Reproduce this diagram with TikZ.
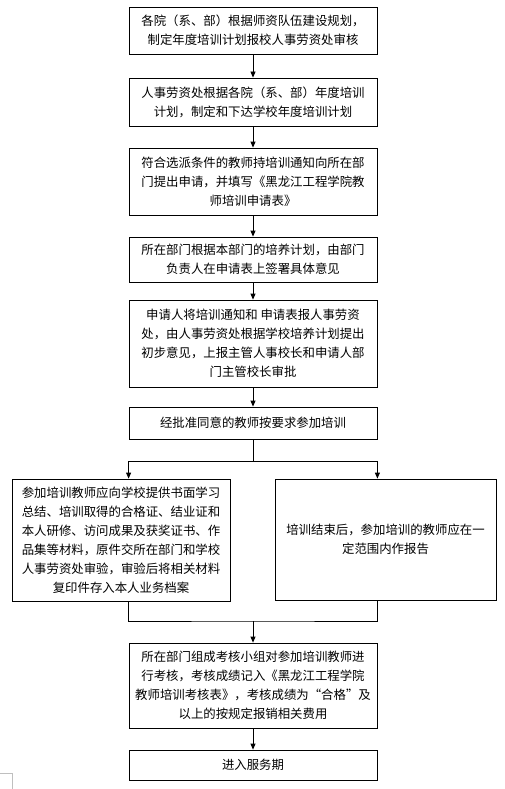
\documentclass[tikz,border=0pt]{standalone}
\usepackage{fontspec}
\newfontfamily\cjk{Noto Sans CJK SC}
\usetikzlibrary{arrows.meta,positioning,calc}

\begin{document}
\begin{tikzpicture}[x=1pt,y=-1pt,
    stepbox/.style={draw,line width=0.8pt,align=center,inner sep=0pt,
      font=\cjk\fontsize{12.4}{19}\selectfont},
    flow/.style={-{Triangle[length=6pt,width=5pt]},line width=0.8pt}]
  \useasboundingbox (0,0) rectangle (504,789);
  % main column
  \node[stepbox,minimum width=248pt,minimum height=47pt] (plan) at (253,30.5)
    {各院（系、部）根据师资队伍建设规划，\\制定年度培训计划报校人事劳资处审核};
  \node[stepbox,minimum width=248pt,minimum height=48pt] (yearly) at (253,102)
    {人事劳资处根据各院（系、部）年度培训\\计划，制定和下达学校年度培训计划};
  \node[stepbox,minimum width=248pt,minimum height=67pt] (apply) at (253,181.5)
    {符合选派条件的教师持培训通知向所在部\\门提出申请，并填写《黑龙江工程学院教\\师培训申请表》};
  \node[stepbox,minimum width=248pt,minimum height=45pt] (dept) at (253,259.5)
    {所在部门根据本部门的培养计划，由部门\\负责人在申请表上签署具体意见};
  \node[stepbox,minimum width=248pt,minimum height=87pt] (approve) at (253,343.5)
    {申请人将培训通知和 申请表报人事劳资\\处，由人事劳资处根据学校培养计划提出\\初步意见，上报主管人事校长和申请人部\\门主管校长审批};
  \node[stepbox,minimum width=248pt,minimum height=32pt] (train) at (253,423)
    {经批准同意的教师按要求参加培训};
  % two branches
  \node[stepbox,minimum width=218pt,minimum height=122pt] (summary) at (121,540)
    {参加培训教师应向学校提供书面学习\\总结、培训取得的合格证、结业证和\\本人研修、访问成果及获奖证书、作\\品集等材料，原件交所在部门和学校\\人事劳资处审验，审验后将相关材料\\复印件存入本人业务档案};
  \node[stepbox,minimum width=221pt,minimum height=121pt] (report) at (385.5,539.5)
    {培训结束后，参加培训的教师应在一\\定范围内作报告};
  % end of column
  \node[stepbox,minimum width=248pt,minimum height=85pt] (assess) at (253,685.5)
    {所在部门组成考核小组对参加培训教师进\\行考核，考核成绩记入《黑龙江工程学院\\教师培训考核表》，考核成绩为“合格”及\\以上的按规定报销相关费用};
  \node[stepbox,minimum width=248pt,minimum height=30pt] (serve) at (253,765)
    {进入服务期};

  \draw[flow] (plan) -- (yearly);
  \draw[flow] (yearly) -- (apply);
  \draw[flow] (apply) -- (dept);
  \draw[flow] (dept) -- (approve);
  \draw[flow] (approve) -- (train);

  \coordinate (fork) at (253,461);
  \draw[line width=0.8pt] (train.south) -- (fork);
  \draw[flow] (fork) -| (train.west |- summary.north);
  \draw[flow] (fork) -| (train.east |- report.north);

  \coordinate (join) at (253,621);
  \draw[line width=0.8pt] (train.west |- summary.south) |- (join) -| (train.east |- report.south);
  \draw[flow] (join) -- (assess.north);
  \draw[flow] (assess) -- (serve);

  \draw[gray!50,line width=0.6pt] (0,773) -- (12,773) -- (12,789);
\end{tikzpicture}
\end{document}
